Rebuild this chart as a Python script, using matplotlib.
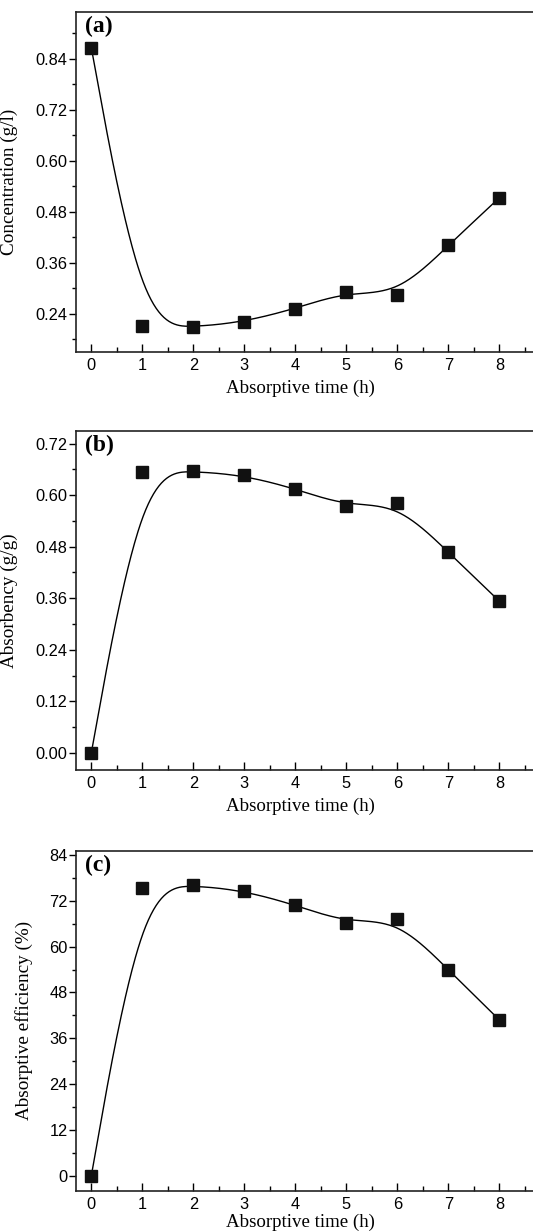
import numpy as np
import matplotlib
matplotlib.use("Agg")
import matplotlib.pyplot as plt
from matplotlib.ticker import MultipleLocator, FormatStrFormatter

# ---- data ----
time_h = [0, 1, 2, 3, 4, 5, 6, 7, 8]
concentration = [0.866, 0.212, 0.208, 0.221, 0.252, 0.292, 0.285, 0.401, 0.513]
absorbency = [0.000, 0.654, 0.656, 0.646, 0.615, 0.574, 0.581, 0.467, 0.353]
efficiency = [0.0, 75.4, 76.1, 74.6, 70.9, 66.2, 67.2, 53.9, 40.8]

panel_labels = ["(a)", "(b)", "(c)"]
ylabels = ["Concentration (g/l)", "Absorbency (g/g)", "Absorptive efficiency (%)"]
xlabel = "Absorptive time (h)"
ylims = [(0.15, 0.95), (-0.04, 0.75), (-3.9, 85.1)]
ymajor = [0.12, 0.12, 12]
yfmt = ["%.2f", "%.2f", "%d"]


def bspline(px, py, num=60):
    """Uniform cubic B-spline using the data points as control points
    (end points tripled so the curve starts/ends on them)."""
    P = np.column_stack([px, py]).astype(float)
    P = np.vstack([P[0], P[0], P, P[-1], P[-1]])
    u = np.linspace(0, 1, num)
    b0 = (1 - u) ** 3 / 6
    b1 = (3 * u ** 3 - 6 * u ** 2 + 4) / 6
    b2 = (-3 * u ** 3 + 3 * u ** 2 + 3 * u + 1) / 6
    b3 = u ** 3 / 6
    segs = []
    for i in range(len(P) - 3):
        seg = (np.outer(b0, P[i]) + np.outer(b1, P[i + 1])
               + np.outer(b2, P[i + 2]) + np.outer(b3, P[i + 3]))
        segs.append(seg)
    out = np.vstack(segs)
    return out[:, 0], out[:, 1]


plt.rcParams["font.family"] = ["Liberation Sans", "DejaVu Sans"]
fig = plt.figure(figsize=(5.33, 12.32), dpi=100)

W = 533.0
H = 1232.0
left_px = 76
axes_px = [(12, 352), (430.7, 770), (850.7, 1190.7)]
ylabel_x_px = [18, 18, 33]
xlabel_y_px = [388, 806.7, 1222]
serif = ["Liberation Serif", "DejaVu Serif"]

series = [concentration, absorbency, efficiency]
for i in range(3):
    top, bot = axes_px[i]
    ax = fig.add_axes([left_px / W, 1 - bot / H, (W - left_px) / W + 0.002, (bot - top) / H])
    ys = series[i]
    cx, cy = bspline(time_h, ys)
    ax.plot(cx, cy, color="black", lw=1.0, zorder=2)
    ax.plot(time_h, ys, linestyle="none", marker="s", ms=8.6, color="#111111", zorder=3)
    ax.set_xlim(-0.3, 8.68)
    ax.set_ylim(*ylims[i])
    ax.xaxis.set_major_locator(MultipleLocator(1))
    ax.xaxis.set_minor_locator(MultipleLocator(0.5))
    ax.yaxis.set_major_locator(MultipleLocator(ymajor[i]))
    ax.yaxis.set_minor_locator(MultipleLocator(ymajor[i] / 2))
    ax.yaxis.set_major_formatter(FormatStrFormatter(yfmt[i]))
    ax.tick_params(axis="x", which="major", direction="in", length=6, width=1, labelsize=11.8, pad=4.5, top=False)
    ax.tick_params(axis="x", which="minor", direction="in", length=3.5, width=1, top=False)
    ax.tick_params(axis="y", which="major", direction="out", length=5, width=1, labelsize=11.8, pad=1, right=False)
    ax.tick_params(axis="y", which="minor", direction="out", length=3, width=1, right=False)
    ax.spines["right"].set_visible(False)
    for s in ["left", "bottom", "top"]:
        ax.spines[s].set_linewidth(1.2)
        ax.spines[s].set_color("#222222")
    ax.set_ylabel(ylabels[i], family=serif, fontsize=13.8)
    ax.yaxis.set_label_coords((ylabel_x_px[i] - left_px) / (W - left_px), 0.5)
    ax.set_xlabel(xlabel, family=serif, fontsize=13.6)
    ax.xaxis.set_label_coords((300 - left_px) / (W - left_px), -(xlabel_y_px[i] - bot) / (bot - top))
    ax.xaxis.label.set_va("center")
    ax.text(0.02, 1 - 4 / (bot - top), panel_labels[i], transform=ax.transAxes,
            family=serif, fontsize=17, fontweight="bold", ha="left", va="top")

fig.savefig("out.png", dpi=100)
